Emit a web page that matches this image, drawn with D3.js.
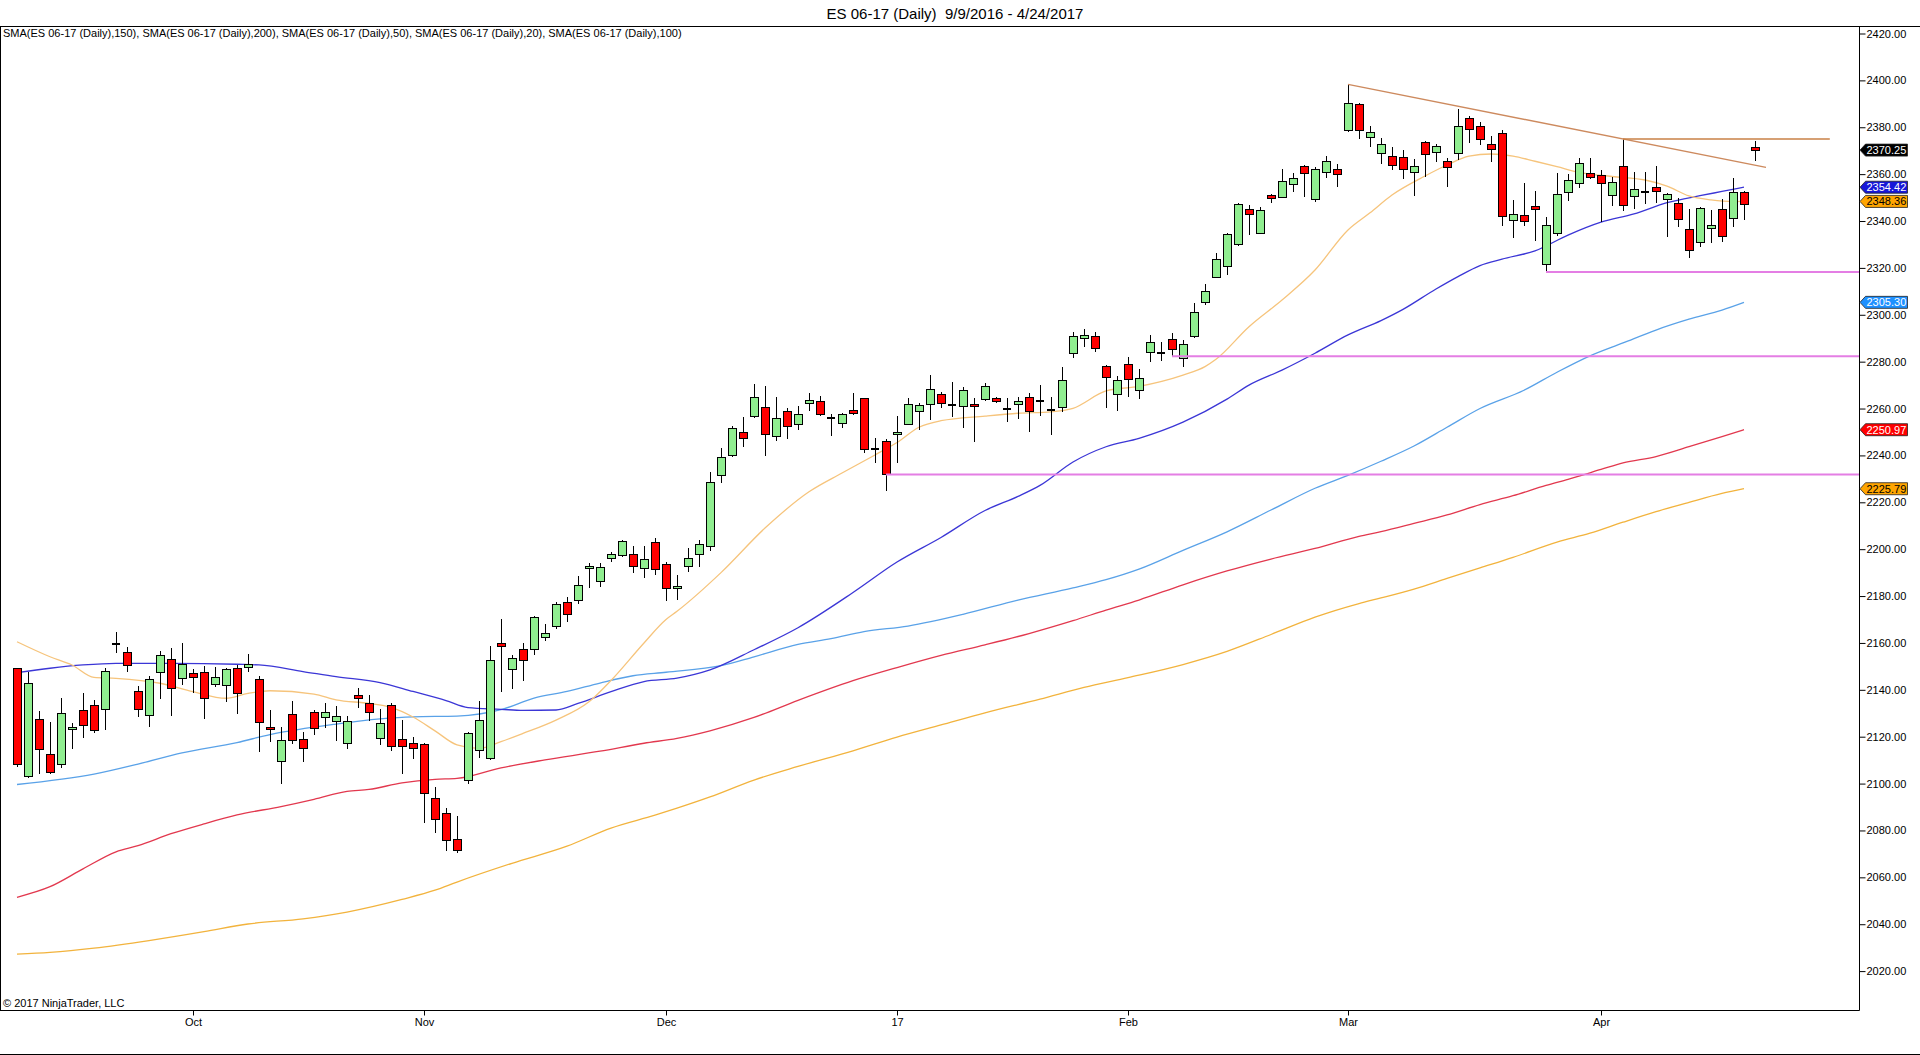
<!DOCTYPE html>
<html>
<head>
<meta charset="utf-8">
<script src="https://cdn.jsdelivr.net/npm/d3@7"></script>
<style>
  body { margin: 0; background: #ffffff; }
  text { font-family: "Liberation Sans", Arial, sans-serif; }
</style>
</head>
<body>
<script>
// daily bars of ES 06-17 (one value per trading day)
var opens = [2149.2,2103.2,2127.4,2112.5,2108.2,2123.1,2131.0,2133.4,2131.7,2159.5,
  2156.0,2139.4,2129.1,2147.5,2153.0,2144.9,2146.8,2147.5,2142.3,2141.9,
  2149.2,2149.6,2144.5,2124.0,2109.5,2129.5,2118.9,2130.4,2128.3,2126.6,
  2117.2,2137.5,2134.2,2119.3,2133.4,2118.9,2117.2,2116.7,2093.7,2087.3,
  2076.2,2101.5,2114.3,2110.8,2159.7,2148.5,2157.3,2157.4,2162.4,2166.9,
  2177.3,2178.3,2191.8,2186.3,2196.1,2197.5,2197.8,2191.8,2202.9,2193.5,
  2183.3,2192.5,2197.8,2201.1,2231.4,2239.9,2249.9,2256.5,2260.5,2248.0,
  2258.7,2253.3,2262.2,2262.9,2255.8,2253.7,2259.2,2264.4,2242.7,2245.9,
  2249.0,2253.3,2258.7,2261.8,2266.1,2261.5,2260.7,2261.8,2263.9,2264.4,
  2259.7,2261.8,2264.8,2263.4,2259.4,2260.4,2283.6,2290.0,2290.7,2277.9,
  2266.1,2278.9,2267.9,2284.0,2283.8,2289.5,2281.4,2290.7,2305.3,2316.0,
  2320.8,2329.8,2345.0,2334.8,2350.7,2350.1,2355.4,2363.2,2349.3,2360.8,
  2361.8,2378.5,2389.9,2375.7,2368.9,2367.7,2367.2,2360.8,2373.6,2369.3,
  2365.6,2368.9,2383.8,2380.5,2372.7,2377.4,2340.2,2342.3,2346.4,2321.5,
  2334.8,2352.2,2356.1,2360.3,2359.4,2350.8,2363.2,2350.4,2352.2,2354.4,
  2349.3,2347.3,2336.5,2330.9,2336.9,2345.0,2341.2,2352.1,2371.3];

var highs = [2149.5,2147.8,2131.1,2126.3,2136.4,2126.0,2138.8,2135.7,2149.2,2164.5,
  2158.1,2141.6,2145.9,2156.7,2157.8,2159.8,2148.7,2150.2,2149.6,2149.5,
  2150.5,2155.3,2145.9,2131.4,2124.0,2135.2,2122.2,2131.4,2134.5,2133.1,
  2128.8,2140.6,2137.8,2131.7,2134.2,2127.1,2119.7,2117.2,2098.4,2089.4,
  2086.2,2122.1,2135.2,2158.7,2170.1,2154.9,2159.8,2171.4,2167.9,2177.3,
  2179.7,2188.6,2194.2,2194.2,2198.7,2203.9,2201.4,2201.5,2204.6,2194.7,
  2189.0,2200.4,2203.9,2232.8,2243.0,2252.6,2256.3,2270.3,2269.6,2264.8,
  2260.1,2261.2,2266.5,2265.4,2257.5,2258.0,2266.5,2264.6,2247.3,2247.0,
  2256.8,2264.4,2262.2,2274.3,2266.9,2271.5,2269.3,2264.4,2270.8,2265.1,
  2264.4,2265.1,2266.5,2270.0,2265.1,2277.9,2292.8,2293.9,2292.8,2278.6,
  2273.9,2282.1,2276.9,2291.4,2288.5,2292.1,2289.2,2304.9,2313.1,2326.5,
  2334.8,2347.8,2346.8,2345.8,2351.5,2362.2,2360.3,2363.9,2362.9,2367.7,
  2364.2,2398.3,2390.2,2380.5,2375.3,2371.7,2370.3,2366.3,2374.1,2372.9,
  2366.7,2387.7,2384.8,2382.4,2376.3,2378.8,2349.0,2356.1,2353.0,2341.9,
  2360.3,2359.9,2366.7,2366.7,2361.8,2358.6,2375.0,2361.1,2361.1,2363.5,
  2351.8,2349.7,2345.0,2346.1,2344.7,2349.3,2358.2,2353.0,2374.1];

var lows = [2107.2,2102.4,2104.0,2104.1,2106.5,2114.9,2119.6,2121.4,2122.9,2155.9,
  2147.8,2128.6,2124.3,2135.9,2129.0,2142.1,2138.5,2127.7,2141.4,2135.0,
  2129.8,2147.8,2113.6,2117.9,2099.7,2116.8,2109.4,2120.7,2123.9,2118.3,
  2114.9,2132.1,2126.8,2116.5,2114.0,2104.1,2110.6,2083.0,2079.1,2071.4,
  2070.5,2099.7,2110.8,2110.1,2139.2,2140.2,2143.9,2154.7,2160.8,2165.8,
  2169.1,2176.6,2183.3,2183.7,2194.7,2196.8,2190.0,2187.8,2189.0,2177.9,
  2178.3,2190.4,2192.5,2199.2,2228.4,2239.3,2243.7,2256.1,2239.9,2246.3,
  2246.9,2250.9,2259.1,2257.0,2248.4,2251.6,2257.3,2240.9,2236.6,2225.0,
  2236.6,2253.0,2250.9,2255.1,2260.4,2256.5,2251.8,2245.6,2263.2,2262.2,
  2254.4,2255.4,2250.1,2257.0,2248.7,2258.7,2281.4,2286.4,2284.0,2260.4,
  2259.1,2265.1,2263.9,2280.0,2280.4,2282.1,2277.9,2290.0,2304.2,2315.6,
  2317.0,2329.3,2334.0,2334.3,2347.6,2349.7,2352.5,2350.1,2348.3,2358.2,
  2354.4,2378.1,2374.9,2371.4,2364.2,2361.8,2357.8,2350.8,2358.9,2365.3,
  2354.7,2366.0,2373.4,2372.4,2365.3,2338.0,2332.6,2338.0,2331.6,2318.1,
  2333.8,2348.5,2353.9,2357.8,2339.7,2346.6,2344.3,2345.0,2347.1,2347.6,
  2333.3,2337.6,2324.1,2328.8,2330.5,2331.2,2337.3,2340.4,2365.8];

var closes = [2108.2,2142.8,2114.6,2104.7,2130.0,2124.1,2124.9,2122.7,2147.9,2159.5,
  2150.5,2131.5,2144.5,2154.7,2140.6,2151.0,2145.3,2136.4,2145.3,2148.5,
  2138.5,2150.9,2126.1,2123.1,2118.5,2118.5,2115.0,2123.6,2130.4,2128.6,
  2126.6,2136.2,2130.4,2125.7,2115.8,2115.8,2115.0,2095.8,2084.5,2075.9,
  2071.4,2121.4,2126.8,2152.4,2158.6,2153.4,2152.7,2170.9,2164.1,2176.5,
  2172.2,2184.4,2192.8,2192.3,2197.8,2203.2,2192.8,2195.7,2191.4,2183.3,
  2184.0,2196.1,2202.1,2228.5,2239.0,2251.6,2247.3,2264.8,2249.0,2255.8,
  2252.3,2257.3,2263.4,2257.5,2255.8,2257.3,2257.8,2242.6,2242.7,2231.9,
  2249.9,2261.8,2261.2,2268.2,2262.2,2261.5,2267.6,2260.8,2269.3,2263.2,
  2259.7,2262.9,2258.7,2263.4,2259.4,2271.8,2290.7,2291.1,2285.7,2273.3,
  2271.9,2272.2,2272.9,2288.1,2283.8,2285.3,2287.4,2301.1,2309.9,2323.7,
  2334.3,2347.1,2342.9,2344.4,2349.7,2356.8,2358.2,2360.3,2362.1,2365.3,
  2359.9,2390.2,2378.8,2377.8,2372.7,2363.5,2361.8,2363.2,2368.5,2371.7,
  2362.9,2380.5,2379.1,2374.9,2370.6,2342.1,2342.9,2339.7,2345.0,2338.0,
  2351.4,2357.1,2364.6,2358.6,2356.1,2356.4,2346.6,2353.5,2352.2,2352.5,
  2351.4,2340.7,2327.6,2345.4,2337.9,2333.6,2352.1,2347.1,2370.25];

// moving averages, [bar index, value]
var sma20 = [[0,2160.5],[3,2154.1],[5,2150.6],[7,2145.3],[9,2144.9],[13,2142.8],[16,2139.2],
  [19,2136.4],[21,2138.5],[23,2139.6],[27,2138.2],[29,2135.7],[32,2134.2],[34,2132.5],
  [36,2128.4],[38,2122.5],[40,2116.5],[42,2115.0],[44,2117.9],[46,2121.4],[49,2127.1],
  [52,2134.9],[54,2144.0],[57,2160.0],[59,2170.0],[60,2173.5],[64,2190.0],[68,2209.0],
  [72,2224.5],[75,2232.5],[78,2240.2],[80,2245.5],[82,2252.0],[84,2254.8],[88,2256.8],
  [91,2258.0],[94,2258.6],[96,2260.1],[99,2267.5],[102,2269.5],[106,2274.3],[108,2277.9],
  [109,2281.0],[112,2294.9],[115,2306.3],[118,2319.1],[121,2336.2],[123,2343.5],
  [125,2351.1],[128,2359.2],[130,2363.9],[132,2367.7],[134,2368.6],[136,2367.7],
  [138,2365.5],[140,2363.2],[142,2360.8],[145,2359.0],[148,2357.5],[150,2354.9],
  [152,2350.7],[154,2349.0],[156,2348.3],[157,2348.36]];

var sma50 = [[0,2147.3],[3,2149.2],[6,2150.6],[9,2151.3],[14,2151.3],[20,2150.9],[22,2150.6],
  [26,2147.8],[29,2145.6],[33,2143.1],[36,2139.3],[39,2135.4],[41,2132.4],[44,2131.7],
  [46,2131.2],[49,2131.4],[51,2134.2],[54,2139.2],[57,2143.5],[60,2145.0],[63,2148.5],
  [67,2157.1],[71,2166.5],[76,2181.5],[80,2194.5],[84,2205.0],[88,2216.5],[91,2222.5],
  [93,2227.2],[96,2237.2],[99,2243.7],[102,2247.3],[106,2254.2],[110,2264.0],[112,2270.0],
  [115,2276.4],[118,2283.6],[121,2291.4],[124,2297.5],[126,2302.3],[129,2311.0],
  [131,2316.3],[133,2321.0],[135,2323.7],[138,2327.3],[141,2334.0],[144,2339.5],
  [147,2343.0],[150,2347.8],[153,2350.8],[155,2352.6],[157,2354.42]];

var sma100 = [[0,2099.6],[7,2104.0],[11,2108.3],[15,2113.1],[20,2117.5],[23,2120.9],
  [29,2125.4],[33,2127.6],[36,2128.5],[40,2128.8],[44,2131.5],[47,2136.5],[50,2139.3],
  [53,2142.9],[56,2146.0],[59,2147.5],[64,2150.3],[67,2154.1],[71,2159.4],[74,2161.8],
  [77,2164.8],[81,2167.2],[86,2172.2],[91,2178.3],[96,2183.5],[99,2187.0],[102,2191.5],
  [106,2199.5],[110,2207.4],[114,2216.7],[118,2226.0],[121,2231.5],[124,2237.5],
  [127,2244.0],[130,2252.0],[133,2260.0],[137,2267.8],[140,2275.5],[143,2282.5],
  [146,2288.0],[149,2293.5],[152,2298.1],[155,2302.0],[157,2305.30]];

var sma150 = [[0,2051.5],[3,2056.0],[6,2063.6],[9,2070.9],[11,2073.5],[14,2078.6],[17,2082.8],
  [20,2086.6],[24,2090.2],[27,2093.3],[30,2096.7],[32,2097.5],[35,2100.3],[38,2101.8],
  [40,2102.2],[44,2106.7],[48,2110.1],[53,2113.8],[57,2117.2],[60,2119.3],[63,2122.5],
  [67,2128.2],[71,2135.5],[76,2143.9],[80,2149.5],[84,2154.7],[88,2159.2],[92,2164.0],
  [96,2169.5],[99,2174.0],[102,2178.3],[106,2184.8],[110,2190.7],[114,2195.8],
  [118,2200.3],[122,2205.5],[124,2207.5],[127,2211.0],[130,2214.6],[133,2219.0],
  [136,2222.8],[139,2227.2],[141,2229.8],[144,2234.0],[146,2236.8],[149,2239.5],
  [152,2243.7],[155,2248.0],[157,2250.97]];

var sma200 = [[0,2027.2],[3,2028.0],[7,2029.8],[12,2033.0],[17,2036.8],[21,2040.1],[26,2042.3],
  [30,2045.2],[35,2050.6],[38,2054.5],[40,2058.0],[45,2066.0],[50,2073.3],[54,2081.0],
  [58,2086.5],[60,2089.5],[63,2094.3],[67,2101.5],[71,2107.3],[76,2114.0],[80,2119.8],
  [84,2125.0],[88,2130.2],[93,2136.0],[97,2141.0],[101,2145.2],[106,2150.8],[110,2156.4],
  [114,2163.6],[118,2171.0],[122,2176.8],[124,2179.2],[127,2183.0],[130,2187.5],
  [133,2192.0],[136,2196.5],[140,2203.0],[143,2206.8],[146,2211.5],[149,2216.0],
  [152,2220.0],[155,2223.8],[157,2225.79]];

// drawing objects: support levels (start bar, price), trendline and resistance
var supportFrom = [79, 105, 139];
var supportPrice = [2231.9, 2282.3, 2318.3];
var trendPoints = [[121, 2398.3], [146, 2375.0]];
var trendEnd = 159;
var resistance = [146, 2375.0];
var resistanceEnd = 164.8;

var priceTicks = d3.range(2020, 2421, 20);
var holidays = ["2016-12-26", "2017-01-02", "2017-04-14"];

var legendText = "SMA(ES 06-17 (Daily),150), SMA(ES 06-17 (Daily),200), SMA(ES 06-17 (Daily),50), SMA(ES 06-17 (Daily),20), SMA(ES 06-17 (Daily),100)";
var titleText = "ES 06-17 (Daily)  9/9/2016 - 4/24/2017";

// trading days of the session calendar
var dayKey = d3.timeFormat("%Y-%m-%d");
var dates = [];
for (var d = new Date(2016, 8, 9); d <= new Date(2017, 3, 24); d.setDate(d.getDate() + 1)) {
  var wd = d.getDay();
  if (wd > 0 && wd < 6 && holidays.indexOf(dayKey(d)) < 0) dates.push(new Date(d));
}
var monthStarts = d3.range(1, dates.length).filter(function(i) {
  return dates[i].getMonth() != dates[i - 1].getMonth();
});

var width = 1920;
var height = 1055;
var plotTop = 26.5;
var plotBottom = 1010.5;
var axisX = 1859.5;

var svg = d3.select("body").append("svg")
  .attr("width", width)
  .attr("height", height);

var x = d3.scaleLinear().domain([0, 158]).range([17, 1755]);
var y = d3.scaleLinear().domain([2020, 2420]).range([971.1, 33.5]);

// moving average lines go under the candles
var maStyles = [
  { data: sma200, color: "#f2b33d" },
  { data: sma150, color: "#e2384e" },
  { data: sma100, color: "#5aa2e8" },
  { data: sma50, color: "#3b36d6" },
  { data: sma20, color: "#f6c47c" }
];
var maLine = d3.line()
  .x(function(d) { return x(d[0]); })
  .y(function(d) { return y(d[1]); })
  .curve(d3.curveMonotoneX);

svg.append("g").selectAll("path")
  .data(maStyles)
  .join("path")
  .attr("d", function(d) { return maLine(d.data); })
  .attr("fill", "none")
  .attr("stroke", function(d) { return d.color; })
  .attr("stroke-width", 1.3);

// candles
var bars = svg.append("g")
  .attr("shape-rendering", "crispEdges")
  .selectAll("g")
  .data(d3.range(opens.length))
  .join("g");

bars.append("line")
  .attr("x1", function(i) { return x(i); })
  .attr("x2", function(i) { return x(i); })
  .attr("y1", function(i) { return y(highs[i]); })
  .attr("y2", function(i) { return y(lows[i]); })
  .attr("stroke", "#000")
  .attr("stroke-width", 1);

bars.append("rect")
  .attr("x", function(i) { return x(i) - 4; })
  .attr("width", 8)
  .attr("y", function(i) {
    if (opens[i] == closes[i]) return y(opens[i]) - 1;
    return y(Math.max(opens[i], closes[i]));
  })
  .attr("height", function(i) {
    if (opens[i] == closes[i]) return 2;
    return Math.max(1, Math.abs(y(opens[i]) - y(closes[i])));
  })
  .attr("fill", function(i) {
    if (opens[i] == closes[i]) return "#000";
    return closes[i] > opens[i] ? "#90ee90" : "#ff0000";
  })
  .attr("stroke", function(i) { return opens[i] == closes[i] ? "none" : "#000"; })
  .attr("stroke-width", 1);

// support lines run to the price axis
svg.append("g").selectAll("line")
  .data(supportFrom)
  .join("line")
  .attr("x1", function(d) { return x(d); })
  .attr("x2", axisX)
  .attr("y1", function(d, i) { return y(supportPrice[i]); })
  .attr("y2", function(d, i) { return y(supportPrice[i]); })
  .attr("stroke", "#e47ee4")
  .attr("stroke-width", 2);

// trendline through the two highs, extended to the right
var slope = (trendPoints[1][1] - trendPoints[0][1]) / (trendPoints[1][0] - trendPoints[0][0]);
svg.append("line")
  .attr("x1", x(trendPoints[0][0]))
  .attr("y1", y(trendPoints[0][1]))
  .attr("x2", x(trendEnd))
  .attr("y2", y(trendPoints[0][1] + slope * (trendEnd - trendPoints[0][0])))
  .attr("stroke", "#cd8a5e")
  .attr("stroke-width", 1.5);

svg.append("line")
  .attr("x1", x(resistance[0]))
  .attr("x2", x(resistanceEnd))
  .attr("y1", y(resistance[1]))
  .attr("y2", y(resistance[1]))
  .attr("stroke", "#c98046")
  .attr("stroke-width", 1.5);

// frame
var frame = svg.append("g").attr("stroke", "#000").attr("stroke-width", 1);
frame.append("line").attr("x1", 0).attr("x2", width).attr("y1", plotTop).attr("y2", plotTop);
frame.append("line").attr("x1", 0.5).attr("x2", 0.5).attr("y1", plotTop).attr("y2", plotBottom);
frame.append("line").attr("x1", 0).attr("x2", axisX).attr("y1", plotBottom).attr("y2", plotBottom);
frame.append("line").attr("x1", axisX).attr("x2", axisX).attr("y1", plotTop).attr("y2", plotBottom);
frame.append("line").attr("x1", 0).attr("x2", width).attr("y1", 1054.5).attr("y2", 1054.5);

// price axis
var yAxis = d3.axisRight(y)
  .tickValues(priceTicks)
  .tickFormat(d3.format(".2f"))
  .tickSize(6)
  .tickPadding(1);

svg.append("g")
  .attr("transform", "translate(" + axisX + ",0)")
  .call(yAxis)
  .call(function(g) { g.select(".domain").remove(); })
  .call(function(g) {
    g.selectAll("text").attr("font-size", 11).attr("fill", "#000")
      .attr("font-family", "'Liberation Sans', Arial, sans-serif");
    g.selectAll("line").attr("stroke", "#000");
  });

// time axis
var monthName = d3.timeFormat("%b");
var xAxis = d3.axisBottom(x)
  .tickValues(monthStarts)
  .tickFormat(function(i) {
    return dates[i].getMonth() == 0 ? d3.timeFormat("%y")(dates[i]) : monthName(dates[i]);
  })
  .tickSize(5)
  .tickPadding(3);

svg.append("g")
  .attr("transform", "translate(0," + plotBottom + ")")
  .call(xAxis)
  .call(function(g) { g.select(".domain").remove(); })
  .call(function(g) {
    g.selectAll("text").attr("font-size", 11).attr("fill", "#000")
      .attr("font-family", "'Liberation Sans', Arial, sans-serif");
    g.selectAll("line").attr("stroke", "#000");
  });

// price markers at the right edge
var lastBar = opens.length - 1;
var markers = [
  { value: closes[lastBar], fill: "#000000", text: "#ffffff" },
  { value: sma50[sma50.length - 1][1], fill: "#1717d8", text: "#ffffff" },
  { value: sma20[sma20.length - 1][1], fill: "#ffa500", text: "#000000" },
  { value: sma100[sma100.length - 1][1], fill: "#1e90ff", text: "#ffffff" },
  { value: sma150[sma150.length - 1][1], fill: "#ff0000", text: "#ffffff" },
  { value: sma200[sma200.length - 1][1], fill: "#ffa500", text: "#000000" }
];

var tags = svg.append("g").selectAll("g")
  .data(markers)
  .join("g")
  .attr("transform", function(d) { return "translate(" + axisX + "," + y(d.value) + ")"; });

tags.append("path")
  .attr("d", "M0.5,0 L6,-6 L48,-6 L48,6 L6,6 Z")
  .attr("fill", function(d) { return d.fill; })
  .attr("stroke", "#222")
  .attr("stroke-width", 0.8);

tags.append("text")
  .attr("x", 7)
  .attr("dy", "0.36em")
  .attr("font-size", 11)
  .attr("fill", function(d) { return d.text; })
  .text(function(d) { return d3.format(".2f")(d.value); });

// texts
svg.append("text")
  .attr("x", 955)
  .attr("y", 19)
  .attr("text-anchor", "middle")
  .attr("font-size", 15)
  .attr("fill", "#000")
  .style("white-space", "pre")
  .text(titleText);

svg.append("text")
  .attr("x", 3)
  .attr("y", 37)
  .attr("font-size", 11)
  .attr("fill", "#000")
  .text(legendText);

svg.append("text")
  .attr("x", 3)
  .attr("y", 1007)
  .attr("font-size", 11)
  .attr("fill", "#000")
  .text("\u00a9 2017 NinjaTrader, LLC");
</script>
</body>
</html>
